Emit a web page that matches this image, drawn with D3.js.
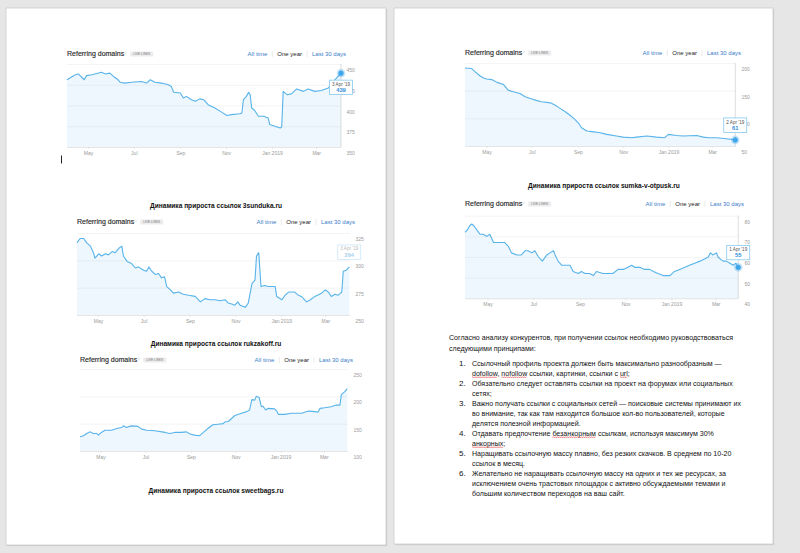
<!DOCTYPE html>
<html><head><meta charset="utf-8">
<script src="https://cdn.jsdelivr.net/npm/d3@7"></script>
<style>body{margin:0;background:#e6e6e6;}svg{display:block}</style>
</head><body>
<svg id="c" width="800" height="553"></svg>
<script>
// ---------------- DATA ----------------
const monthTicks = ["2018-05-01","2018-07-01","2018-09-01","2018-11-01","2019-01-01","2019-03-01"];
const monthLabels = ["May","Jul","Sep","Nov","Jan 2019","Mar"];
const legendItems = ["All time","One year","Last 30 days"];
const chartTitle = "Referring domains";
const badgeText = "LIVE LINKS";

// 3sunduka.ru (days since start date)
const s1Start = "2018-04-03";
const s1Days = [0,11,15,23,26,33,46,51,57,62,68,71,77,86,99,106,111,117,126,135,139,142,151,155,159,166,171,177,182,188,197,206,213,219,230,233,235,239,242,244,246,250,255,262,268,270,277,284,286,288,293,299,306,315,321,330,339,348,355,365];
const s1Values = [431,437,438,431,436,437,440,438,439,435,431,428,427,428,429,427,431,428,427,425,423,416,415,409,411,407,405,408,407,401,397,392,388,389,390,391,407,411,416,413,397,394,387,387,385,377,375,373,374,417,413,414,420,417,420,417,418,421,429,439];
const s1Ticks = [350,375,400,425,450];

// rukzakoff.ru
const s2Start = "2018-04-03";
const s2Days = [0,4,9,13,18,22,24,29,33,38,42,47,51,56,60,62,67,73,78,82,89,93,96,100,105,109,113,117,120,125,129,136,142,149,158,165,171,178,185,191,198,202,207,211,215,218,225,229,234,238,240,243,246,251,256,265,267,274,278,283,291,296,300,307,312,318,327,332,336,340,345,349,354,356,360,364];
const s2Values = [316,320,320,316,313,307,302,306,304,306,305,308,307,311,313,304,299,297,293,294,291,290,294,290,287,288,284,285,276,273,270,271,269,268,267,262,265,264,264,263,264,261,260,259,262,259,257,261,279,282,304,307,276,277,276,276,267,264,268,271,271,268,267,262,264,267,270,273,271,267,269,268,271,290,291,294];
const s2Ticks = [250,275,300,325];

// sweetbags.ru
const s3Start = "2018-04-03";
const s3Days = [0,5,9,14,18,23,25,29,34,43,50,57,59,63,70,79,84,91,102,116,122,129,138,145,150,156,163,168,175,181,188,195,197,202,206,211,220,227,231,234,238,240,244,247,249,253,256,265,268,270,279,288,302,311,320,324,327,333,342,349,354,356,361,364];
const s3Values = [126,128,132,135,132,132,129,134,138,138,141,143,146,143,146,145,140,138,137,134,132,134,134,135,131,129,128,134,142,148,149,150,153,154,159,165,169,172,175,194,193,200,198,181,182,175,178,177,173,167,167,169,169,173,172,171,178,179,181,184,184,203,209,214];
const s3Ticks = [100,150,200,250];

// sumka-v-otpusk.ru
const s4Start = "2018-04-02";
const s4Days = [0,9,13,20,25,29,36,43,52,58,65,74,81,88,97,103,115,121,128,135,141,148,153,157,164,171,182,191,204,213,225,231,245,258,269,274,285,294,312,321,328,339,352,364];
const s4Values = [191,190,185,177,173,171,170,165,161,151,148,145,139,136,132,130,128,124,118,112,106,98,91,83,77,76,74,71,68,66,65,66,68,66,65,71,69,68,69,66,65,65,63,61];
const s4Ticks = [50,100,150,200];

// fifth chart (right page, middle)
const s5Start = "2018-04-01";
const s5Days = [0,3,6,9,12,16,20,24,29,33,38,47,53,58,62,69,75,80,84,89,93,98,103,109,113,118,120,124,129,135,140,144,151,155,160,166,171,175,184,197,204,211,217,222,226,233,239,246,251,257,264,273,279,286,293,299,306,313,319,324,327,330,335,337,340,344,348,353,357,361,364];
const s5Values = [72,73,75,76,75,73,71,71,70,71,67,67,67,65,62,61,61,63,63,62,63,60,58,61,62,63,61,58,56,56,56,53,52,53,52,52,51,53,52,52,54,54,55,56,55,55,54,54,53,52,51,51,53,54,55,56,57,58,59,60,62,61,62,60,59,58,58,57,56,57,55];
const s5Ticks = [40,50,60,70,80];

const tipDates = ["3 Apr '19","3 Apr '19","2 Apr '19","1 Apr '19"];
const tipValues = ["439","294","61","55"];

const captions = [
  "Динамика прироста ссылок 3sunduka.ru",
  "Динамика прироста ссылок rukzakoff.ru",
  "Динамика прироста ссылок sweetbags.ru",
  "Динамика прироста ссылок sumka-v-otpusk.ru"
];
const introLines = [
  "Согласно анализу конкурентов, при получении ссылок необходимо руководствоваться",
  "следующими принципами:"
];
const listItems = [
  ["Ссылочный профиль проекта должен быть максимально разнообразным —", "dofollow, nofollow ссылки, картинки, ссылки с url;"],
  ["Обязательно следует оставлять ссылки на проект на форумах или социальных", "сетях;"],
  ["Важно получать ссылки с социальных сетей — поисковые системы принимают их", "во внимание, так как там находится большое кол-во пользователей, которые", "делятся полезной информацией."],
  ["Отдавать предпочтение безанкорным ссылкам, используя максимум 30%", "анкорных;"],
  ["Наращивать ссылочную массу плавно, без резких скачков. В среднем по 10-20", "ссылок в месяц."],
  ["Желательно не наращивать ссылочную массу на одних и тех же ресурсах, за", "исключением очень трастовых площадок с активно обсуждаемыми темами и", "большим количеством переходов на ваш сайт."]
];
const misspelled = ["dofollow","nofollow","url","безанкорным","анкорных"];

// ---------------- DRAW ----------------
const svg = d3.select("#c");
const parseDate = d3.timeParse("%Y-%m-%d");
const FONT = "'Liberation Sans', Arial, Helvetica, sans-serif";
svg.attr("font-family", FONT);

svg.append("rect").attr("width",800).attr("height",553).attr("fill","#e6e6e6");
[{x:6,y:8,w:380,h:537},{x:394,y:8,w:379,h:536}].forEach(p=>{
  svg.append("rect").attr("x",p.x+1.2).attr("y",p.y+1.2).attr("width",p.w).attr("height",p.h).attr("fill","#d2d2d2");
  svg.append("rect").attr("x",p.x).attr("y",p.y).attr("width",p.w).attr("height",p.h).attr("fill","#fff").attr("stroke","#c6c6c6").attr("stroke-width",0.7);
});

function drawChart(c){
  const g = svg.append("g");
  const start = parseDate(c.start);
  const end = d3.timeYear.offset(start,1);
  const x = d3.scaleTime().domain([start,end]).range([c.left,c.right]);
  const ext = d3.extent(c.ticks);
  const y = d3.scaleLinear().domain(ext).range([c.bottom,c.top]);
  const pts = c.days.map((d,i)=>({date:d3.timeDay.offset(start,d), v:c.values[i]}));

  // header
  const title = g.append("text").attr("x",c.left).attr("y",c.titleY+2.4)
    .attr("font-size",7).attr("fill","#2a2a2a").attr("stroke","#2a2a2a").attr("stroke-width",0.15).text(chartTitle);
  const tw = title.node().getComputedTextLength();
  g.append("text").attr("x",c.left+tw+1.3).attr("y",c.titleY-0.2).attr("font-size",4).attr("fill","#aaa").text("i");
  g.append("rect").attr("x",c.left+tw+6).attr("y",c.titleY-2.4).attr("width",23).attr("height",5).attr("fill","#ececec").attr("rx",0.6);
  g.append("text").attr("x",c.left+tw+17.5).attr("y",c.titleY+1.2).attr("text-anchor","middle")
    .attr("font-size",3.2).attr("fill","#777").text(badgeText);

  let xr = c.right+5;
  const items = legendItems.slice().reverse();
  items.forEach((t,i)=>{
    const el = g.append("text").attr("x",xr).attr("y",c.titleY+2.2).attr("text-anchor","end")
      .attr("font-size",6).attr("fill", t==="One year" ? "#222" : "#3a7cc8").text(t);
    xr -= el.node().getComputedTextLength();
    if(i<items.length-1){
      xr -= 5;
      g.append("line").attr("x1",xr).attr("x2",xr).attr("y1",c.titleY-3).attr("y2",c.titleY+3).attr("stroke","#dcdcdc").attr("stroke-width",0.6);
      xr -= 5;
    }
  });

  // y axis + grid
  const ya = g.append("g").attr("transform",`translate(${c.right},0)`)
    .call(d3.axisRight(y).tickValues(c.ticks).tickSize(-(c.right-c.left)).tickPadding(5.5).tickFormat(d3.format("d")));
  ya.select(".domain").remove();
  ya.selectAll("line").attr("stroke", d=> d===ext[0] ? "#dadada" : "#efefef").attr("stroke-width",0.7);
  ya.selectAll("text").attr("font-size",5).attr("fill","#9a9a9a").attr("font-family",FONT).attr("dy","1.5em");

  // x axis
  const xa = g.append("g").attr("transform",`translate(0,${c.bottom})`)
    .call(d3.axisBottom(x).tickValues(monthTicks.map(parseDate)).tickFormat((d,i)=>monthLabels[i]).tickSize(2).tickPadding(2));
  xa.select(".domain").remove();
  xa.selectAll("line").attr("stroke","#dcdcdc").attr("stroke-width",0.6);
  xa.selectAll("text").attr("font-size",5).attr("fill","#9a9a9a").attr("font-family",FONT);

  // area + line
  g.append("path").datum(pts)
    .attr("d", d3.area().x(d=>x(d.date)).y0(c.bottom).y1(d=>y(d.v)))
    .attr("fill","rgba(91,181,234,0.11)");
  g.append("path").datum(pts)
    .attr("d", d3.line().x(d=>x(d.date)).y(d=>y(d.v)))
    .attr("fill","none").attr("stroke","#57b3ea").attr("stroke-width",1.1).attr("stroke-linejoin","round");

  if(c.tip){
    const last = pts[pts.length-1];
    const px = x(last.date), py = y(last.v);
    if(c.tip.vline) g.append("line").attr("x1",px).attr("x2",px).attr("y1",c.top).attr("y2",c.bottom).attr("stroke","#cfcfcf").attr("stroke-width",0.7);
    if(c.tip.dot){
      g.append("circle").attr("cx",px).attr("cy",py).attr("r",4.3).attr("fill","rgba(70,170,235,0.3)");
      g.append("circle").attr("cx",px).attr("cy",py).attr("r",2.6).attr("fill","#3fa6ea");
    }
    const bw = 23, bh = 14.5;
    const by = c.tip.side==="below" ? py+7 : py-7.5-bh;
    const tg = g.append("g").attr("opacity", c.tip.faded ? 0.42 : 1);
    tg.append("rect").attr("x",px-bw/2).attr("y",by).attr("width",bw).attr("height",bh)
      .attr("fill","#fff").attr("stroke","#74c2ee").attr("stroke-width",0.7);
    tg.append("text").attr("x",px).attr("y",by+5.6).attr("text-anchor","middle").attr("font-size",4.6).attr("fill","#555").text(c.tip.date);
    tg.append("text").attr("x",px).attr("y",by+12).attr("text-anchor","middle").attr("font-size",5.8).attr("font-weight","bold").attr("fill","#2f8ddb").text(c.tip.value);
  }
}

drawChart({start:s1Start, days:s1Days, values:s1Values, ticks:s1Ticks, left:67, right:341, top:64, bottom:147, titleY:54,
  tip:{date:tipDates[0], value:tipValues[0], side:"below", dot:true, vline:true}});
drawChart({start:s2Start, days:s2Days, values:s2Values, ticks:s2Ticks, left:77, right:350, top:233, bottom:315, titleY:222,
  tip:{date:tipDates[1], value:tipValues[1], side:"above", faded:true}});
drawChart({start:s3Start, days:s3Days, values:s3Values, ticks:s3Ticks, left:80, right:348, top:369, bottom:451, titleY:360});
drawChart({start:s4Start, days:s4Days, values:s4Values, ticks:s4Ticks, left:465, right:736, top:63, bottom:146, titleY:53,
  tip:{date:tipDates[2], value:tipValues[2], side:"above", dot:true, vline:true}});
drawChart({start:s5Start, days:s5Days, values:s5Values, ticks:s5Ticks, left:465, right:739, top:215.7, bottom:298.3, titleY:204,
  tip:{date:tipDates[3], value:tipValues[3], side:"above", dot:true, vline:true}});

// text cursor on left page
svg.append("line").attr("x1",61.5).attr("x2",61.5).attr("y1",155.5).attr("y2",163.5).attr("stroke","#222").attr("stroke-width",1);

// captions
const capPos = [[216,205],[216,343],[216,490],[604,185]];
const capNodes = captions.map((t,i)=> svg.append("text").attr("x",capPos[i][0]).attr("y",capPos[i][1]+2.6)
  .attr("text-anchor","middle").attr("font-size",8).attr("font-weight","bold").attr("fill","#111").text(t).node());
function fitNodes(nodes, refNode, target){
  const f = target/refNode.getComputedTextLength();
  nodes.forEach(n=>{ const w = n.getComputedTextLength(); n.setAttribute("textLength", w*f); n.setAttribute("lengthAdjust","spacingAndGlyphs"); });
}
fitNodes(capNodes, capNodes[0], 132);

// body text on right page
const bodyNodes = [];
introLines.forEach((t,i)=>{
  bodyNodes.push(svg.append("text").attr("x",449).attr("y",337+i*11+2.7).attr("font-size",8).attr("fill","#111").text(t).node());
});
let k = 0;
const listNodes = [];
listItems.forEach((lines,i)=>{
  svg.append("text").attr("x",459).attr("y",363+k*10+2.7).attr("font-size",8).attr("fill","#111").text((i+1)+".");
  lines.forEach(t=>{
    const n = svg.append("text").attr("x",472).attr("y",363+k*10+2.7).attr("font-size",8).attr("fill","#111").text(t).node();
    bodyNodes.push(n); listNodes.push(n);
    k++;
  });
});
fitNodes(bodyNodes, bodyNodes[0], 284);

// spell-check squiggles
listNodes.forEach(n=>{
  const txt = n.textContent;
  misspelled.forEach(w=>{
    let idx = txt.indexOf(w);
    while(idx>=0){
      const before = idx>0 ? txt[idx-1] : " ";
      if(!/[а-яa-z]/i.test(before)){
        const x0 = n.getStartPositionOfChar(idx).x;
        const x1 = n.getEndPositionOfChar(idx+w.length-1).x;
        const yb = +n.getAttribute("y")+1.6;
        let d = `M${x0},${yb}`;
        let up = true;
        for(let xx=x0+1; xx<=x1; xx+=1){ d += `L${xx},${yb+(up?-0.6:0.6)}`; up=!up; }
        svg.append("path").attr("d",d).attr("fill","none").attr("stroke","#e02b2b").attr("stroke-width",0.5);
      }
      idx = txt.indexOf(w, idx+1);
    }
  });
});
</script>
</body></html>
